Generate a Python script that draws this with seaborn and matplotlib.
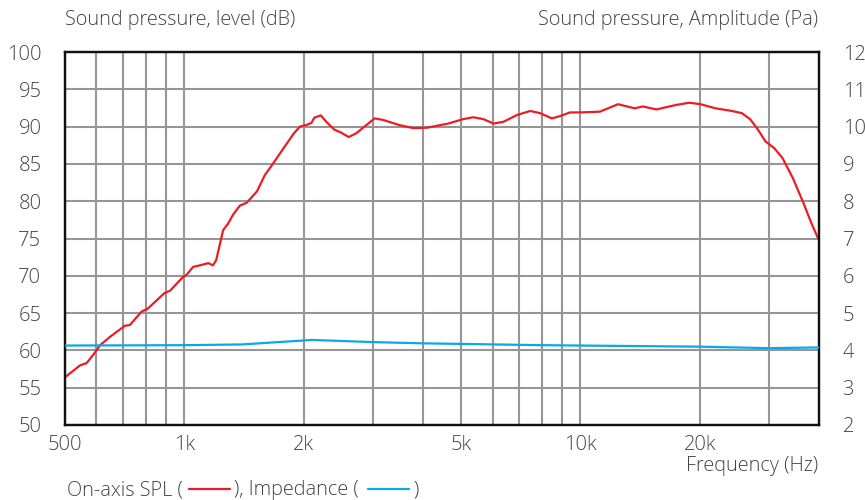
import matplotlib
matplotlib.use("Agg")
import matplotlib.pyplot as plt
from matplotlib.lines import Line2D
from matplotlib.ticker import FixedLocator, NullFormatter, FixedFormatter
import seaborn as sns
import pandas as pd

# ---- data ----
spl_freq = [500, 546, 567, 589, 613, 649, 708, 729, 780, 809, 892, 921, 991, 1012,
            1053, 1095, 1150, 1181, 1204, 1253, 1290, 1328, 1381, 1438, 1525, 1597,
            1658, 1770, 1891, 1959, 2030, 2094, 2130, 2212, 2277, 2391, 2486, 2601,
            2716, 2851, 3023, 3172, 3493, 3785, 4100, 4630, 5055, 5366, 5687, 6039,
            6397, 6913, 7466, 7911, 8467, 8878, 9409, 9969, 11190, 12441, 13705,
            14375, 15540, 17430, 18813, 20100, 21930, 24100, 25550, 26800, 27880,
            29330, 30860, 32380, 34360, 36450, 38310, 39800]
spl_db = [56.4, 58.0, 58.3, 59.4, 60.7, 61.8, 63.3, 63.4, 65.2, 65.6, 67.7, 68.0, 69.8, 70.1,
          71.2, 71.4, 71.7, 71.4, 72.1, 76.1, 77.0, 78.2, 79.4, 79.8, 81.3, 83.5,
          84.7, 86.9, 89.1, 90.0, 90.2, 90.5, 91.2, 91.5, 90.7, 89.6, 89.2, 88.6,
          89.1, 90.0, 91.1, 90.9, 90.2, 89.8, 89.85, 90.4, 91.0, 91.25, 91.0, 90.4,
          90.65, 91.55, 92.1, 91.8, 91.1, 91.4, 91.9, 91.9, 92.0, 93.0, 92.45,
          92.7, 92.3, 92.9, 93.2, 93.0, 92.45, 92.1, 91.8, 91.0, 89.8,
          88.0, 87.1, 85.75, 83.1, 79.9, 77.0, 75.0]

imp_freq = [500, 1000, 1400, 2100, 3050, 4000, 8000, 20000, 30000, 40000]
imp_val = [4.13, 4.14, 4.16, 4.28, 4.22, 4.19, 4.14, 4.10, 4.06, 4.08]

left_ticks = [50, 55, 60, 65, 70, 75, 80, 85, 90, 95, 100]
right_ticks = [2, 3, 4, 5, 6, 7, 8, 9, 10, 11, 12]
x_major = [500, 1000, 2000, 5000, 10000, 20000]
x_major_labels = ["500", "1k", "2k", "5k", "10k", "20k"]
x_minor = [600, 700, 800, 900, 3000, 4000, 6000, 7000, 8000, 9000, 30000]

spl_df = pd.DataFrame({"freq": spl_freq, "db": spl_db})
imp_df = pd.DataFrame({"freq": imp_freq, "val": imp_val})

# ---- style ----
sns.set_style("white")
plt.rcParams["font.family"] = ["Open Sans", "DejaVu Sans"]
TXT = "#444444"
GRID = "#969696"
RED = "#ec1c24"
BLUE = "#0aa8e6"
FS = 14.3

fig = plt.figure(figsize=(8.65, 5.0), dpi=100)
ax = fig.add_axes([65 / 865, 1 - 425 / 500, (819 - 65) / 865, (425 - 52) / 500])
ax2 = ax.twinx()

ax.set_xscale("log")
ax.set_xlim(500, 40000)
ax.set_ylim(50, 100)
ax2.set_ylim(2, 12)

# grid
ax.xaxis.set_major_locator(FixedLocator(x_major))
ax.xaxis.set_major_formatter(FixedFormatter(x_major_labels))
ax.xaxis.set_minor_locator(FixedLocator(x_minor))
ax.xaxis.set_minor_formatter(NullFormatter())
ax.set_yticks(left_ticks)
ax2.set_yticks(right_ticks)
ax.grid(True, which="both", axis="x", color=GRID, linewidth=1.5)
ax.grid(True, which="major", axis="y", color=GRID, linewidth=1.5)
ax.set_axisbelow(True)

sns.lineplot(data=spl_df, x="freq", y="db", ax=ax, color=RED, linewidth=1.6,
             sort=False, estimator=None, zorder=3)
sns.lineplot(data=imp_df, x="freq", y="val", ax=ax2, color=BLUE, linewidth=1.6,
             sort=False, estimator=None, zorder=3)

for a in (ax, ax2):
    a.set_xlabel("")
    a.set_ylabel("")
    for s in a.spines.values():
        s.set_color("#111111")
        s.set_linewidth(1.6)

ax.tick_params(axis="both", which="both", length=0, colors=TXT, labelsize=14.5)
ax.tick_params(axis="y", pad=17)
ax.tick_params(axis="x", pad=7)
ax2.tick_params(axis="y", length=0, colors=TXT, labelsize=14.5, pad=17)
for lab in ax.get_yticklabels() + ax.get_xticklabels() + ax2.get_yticklabels():
    lab.set_fontweight("light")

# titles / labels
fig.text(65 / 865, 1 - 20 / 500, "Sound pressure, level (dB)", ha="left", va="center",
         fontsize=FS, color=TXT, fontweight="light")
fig.text(818 / 865, 1 - 20 / 500, "Sound pressure, Amplitude (Pa)", ha="right", va="center",
         fontsize=FS, color=TXT, fontweight="light")
fig.text(818 / 865, 1 - 466 / 500, "Frequency (Hz)", ha="right", va="center",
         fontsize=FS, color=TXT, fontweight="light")

# legend line
ly = 1 - 490 / 500
fig.text(67 / 865, ly, "On-axis SPL (", ha="left", va="center", fontsize=FS,
         color=TXT, fontweight="light")
fig.add_artist(Line2D([189 / 865, 230 / 865], [ly + 0.002, ly + 0.002], color=RED,
                      linewidth=1.6, transform=fig.transFigure))
fig.text(234 / 865, ly, "), Impedance (", ha="left", va="center", fontsize=FS,
         color=TXT, fontweight="light")
fig.add_artist(Line2D([368 / 865, 409 / 865], [ly + 0.002, ly + 0.002], color=BLUE,
                      linewidth=1.6, transform=fig.transFigure))
fig.text(413 / 865, ly, ")", ha="left", va="center", fontsize=FS,
         color=TXT, fontweight="light")

fig.savefig("out.png", dpi=100)
